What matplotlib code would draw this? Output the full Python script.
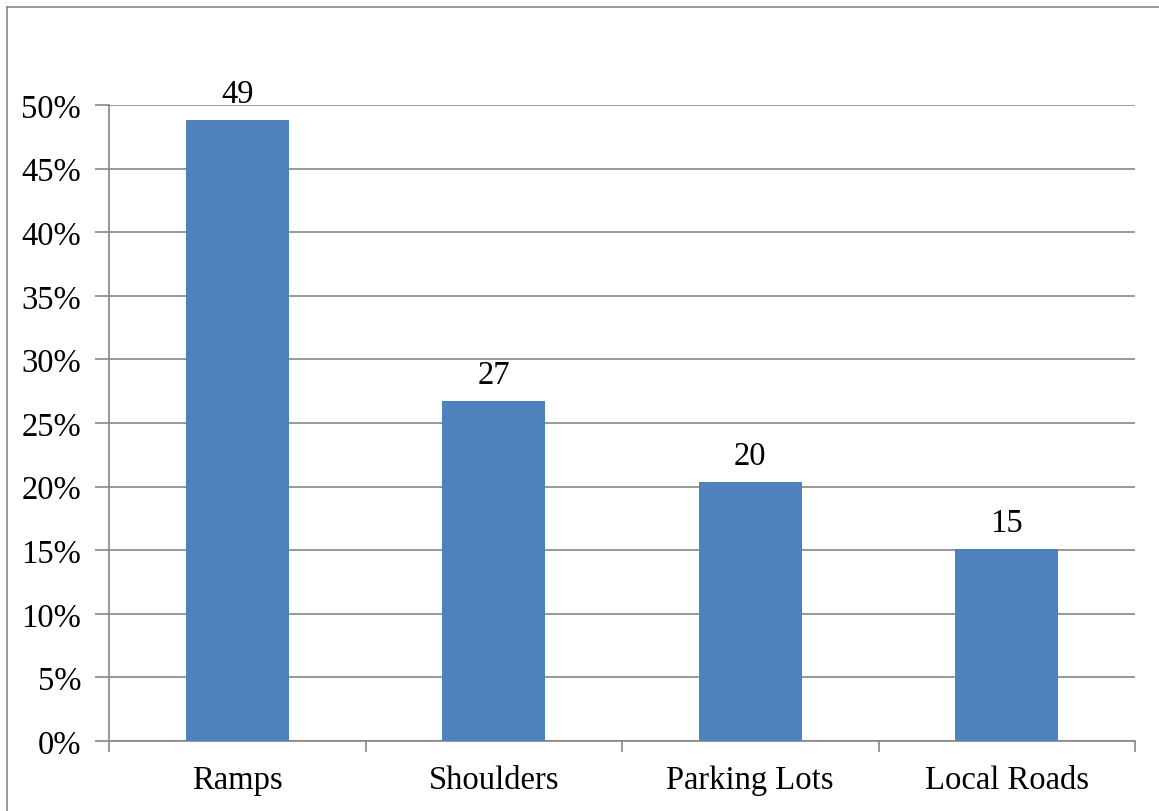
import matplotlib
matplotlib.use("Agg")
import matplotlib.pyplot as plt
from matplotlib.lines import Line2D
from matplotlib.ticker import MultipleLocator, PercentFormatter
import numpy as np

categories = ["Ramps", "Shoulders", "Parking Lots", "Local Roads"]
shares = [48.8, 26.7, 20.4, 15.1]
bar_labels = ["49", "27", "20", "15"]

plt.rcParams['font.family'] = ['Liberation Serif', 'DejaVu Serif']

W, H = 1159, 812
fig = plt.figure(figsize=(W / 100, H / 100), dpi=100)
fig.patch.set_facecolor('white')

# axes box in pixels: left 109, right 1135, top(50%) 106, bottom 742
ax = fig.add_axes([109 / W, 1 - 742 / H, (1135 - 109) / W, (742 - 106) / H])

grid_col = '#868686'
fs = 23.5
x = np.arange(len(categories))
bars = ax.bar(x, shares, width=0.4, color='#4f81bd', zorder=3)

ax.set_xlim(-0.5, len(categories) - 0.5)
ax.set_ylim(0, 50)
ax.yaxis.set_major_locator(MultipleLocator(5))
ax.yaxis.set_major_formatter(PercentFormatter(decimals=0))
ax.grid(axis='y', color=grid_col, linewidth=1.2, zorder=0)

for s in ['top', 'right']:
    ax.spines[s].set_visible(False)
for s in ['left', 'bottom']:
    ax.spines[s].set_color(grid_col)
    ax.spines[s].set_linewidth(1.2)

ax.tick_params(axis='y', length=10, width=1.2, color=grid_col, labelsize=fs, pad=10)
ax.set_xticks(x)
ax.set_xticklabels(categories)
ax.tick_params(axis='x', length=0, labelsize=fs, pad=17)
# category boundary tick marks
ax.set_xticks(np.arange(-0.5, len(categories)), minor=True)
ax.tick_params(axis='x', which='minor', length=8, width=1.2, color=grid_col)

for b, lab in zip(bars, bar_labels):
    ax.annotate(lab, (b.get_x() + b.get_width() / 2, b.get_height()),
                xytext=(0, 11), textcoords='offset pixels',
                ha='center', va='bottom', fontsize=fs)

# outer chart frame (left and top edges visible)
fig.add_artist(Line2D([6.5 / W, 6.5 / W], [0, 1 - 7.5 / H], color=grid_col, lw=1.2))
fig.add_artist(Line2D([6.5 / W, 1], [1 - 7.5 / H, 1 - 7.5 / H], color=grid_col, lw=1.2))

fig.savefig("out.png", dpi=100)
